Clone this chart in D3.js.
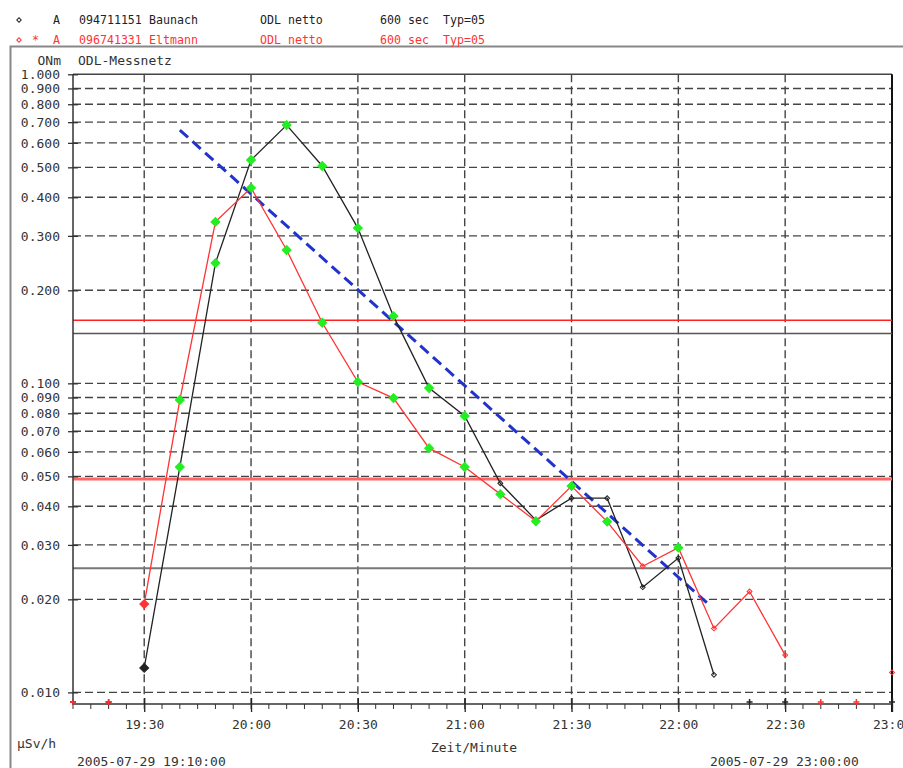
<!DOCTYPE html>
<html lang="de">
<head>
<meta charset="UTF-8">
<title>ODL-Messnetz</title>
<script src="https://d3js.org/d3.v7.min.js"></script>
<style>
  body { margin: 0; background: #fff; }
  text { font-family: "DejaVu Sans Mono", monospace; font-size: 13px; fill: #333; }
</style>
</head>
<body>
<script>
// 10-minute values (600 sec), 2005-07-29
const times = ["19:10","19:20","19:30","19:40","19:50","20:00","20:10","20:20","20:30","20:40","20:50","21:00",
               "21:10","21:20","21:30","21:40","21:50","22:00","22:10","22:20","22:30","22:40","22:50","23:00"];
const baunach = [null, null, 0.0120, 0.0536, 0.245, 0.528, 0.685, 0.505, 0.318, 0.165, 0.0966, 0.0784,
                 0.0475, 0.0361, 0.0425, 0.0425, 0.0219, 0.0272, 0.0114, null, null, null, null, null];
const eltmann = [null, null, 0.0193, 0.0883, 0.333, 0.429, 0.270, 0.157, 0.101, 0.0896, 0.0617, 0.0536,
                 0.0438, 0.0358, 0.0465, 0.0357, 0.0256, 0.0294, 0.0161, 0.0212, 0.0132, null, null, 0.0116];
// marker kind per point: f = first (filled), g = green, o = plain
const baunachMarks = ["","","f","g","g","g","g","g","g","g","g","g","o","o","o","o","o","o","o","","","","",""];
const eltmannMarks = ["","","f","g","g","g","g","g","g","g","g","g","g","g","g","g","o","g","o","o","o","","","o"];
// times with no value, drawn on the time axis
const baunachMissing = ["19:10","19:20","22:20","22:30","23:00"];
const eltmannMissing = ["19:10","19:20","22:40","22:50"];

const trendTimes = ["19:40", "22:08"];
const trendValues = [0.66, 0.0195];

const redLimits = [0.16, 0.049];
const greyLimits = [0.145, 0.0252];

const yTickValues = [0.01,0.02,0.03,0.04,0.05,0.06,0.07,0.08,0.09,0.1,0.2,0.3,0.4,0.5,0.6,0.7,0.8,0.9,1.0];

const width = 903, height = 768;
const parse = d3.timeParse("%Y-%m-%d %H:%M");
const t = s => parse("2005-07-29 " + s);

const svg = d3.select("body").append("svg")
    .attr("width", width)
    .attr("height", height);

const x = d3.scaleTime().domain([t("19:10"), t("23:00")]).range([73, 892]);
const y = d3.scaleLog().domain([0.00917, 1]).range([704, 74.3]);

// square diamond
const diamond = s => d3.symbol(d3.symbolSquare, s)();

// outer frame
svg.append("path")
    .attr("d", `M10.5,${height}V46.5H${width}`)
    .attr("fill", "none").attr("stroke", "#888").attr("stroke-width", 2);

// legend
const legend = [
    {c: "#222", star: false, id: "094711151", name: "Baunach", yy: 24},
    {c: "#f33", star: true, id: "096741331", name: "Eltmann", yy: 44}
];
legend.forEach(d => {
    const g = svg.append("g").attr("transform", `translate(0,${d.yy})`);
    g.append("path").attr("d", diamond(10)).attr("transform", "translate(19,-4) rotate(45)")
        .attr("fill", "none").attr("stroke", d.c).attr("stroke-width", 1);
    if (d.star) g.append("text").attr("x", 32).text("*");
    g.append("text").attr("x", 53).text("A");
    g.append("text").attr("x", 79).text(d.id);
    g.append("text").attr("x", 149).text(d.name);
    g.append("text").attr("x", 260).text("ODL netto");
    g.append("text").attr("x", 380).text("600 sec");
    g.append("text").attr("x", 443).text("Typ=05");
    g.selectAll("text").style("fill", d.c).style("font-size", "11.6px");
});

svg.append("text").attr("x", 61).attr("y", 65).attr("text-anchor", "end").text("ONm");
svg.append("text").attr("x", 78).attr("y", 65).text("ODL-Messnetz");

// grid
const grid = svg.append("g").attr("stroke", "#444").attr("stroke-width", 1.4).attr("stroke-dasharray", "8,4");
grid.selectAll("line.h").data(yTickValues.filter(v => v < 1)).join("line")
    .attr("x1", x.range()[0]).attr("x2", x.range()[1])
    .attr("y1", d => y(d)).attr("y2", d => y(d));
const majors = d3.timeMinute.every(30).range(t("19:30"), t("23:00"));
grid.selectAll("line.v").data(majors).join("line")
    .attr("x1", d => x(d)).attr("x2", d => x(d))
    .attr("y1", y(1)).attr("y2", y.range()[0]);

// top border and right border
svg.append("line").attr("x1", 73).attr("x2", 892).attr("y1", y(1)).attr("y2", y(1))
    .attr("stroke", "#444").attr("stroke-width", 1.5);
svg.append("line").attr("x1", 892).attr("x2", 892).attr("y1", y(1)).attr("y2", 712)
    .attr("stroke", "#111").attr("stroke-width", 2);

// limit lines
const limitStyle = [
    {v: redLimits[0], c: "#f22", w: 1.4},
    {v: greyLimits[0], c: "#555", w: 1.6},
    {v: redLimits[1], c: "#f66", w: 3},
    {v: greyLimits[1], c: "#777", w: 2}
];
svg.selectAll("line.limit").data(limitStyle).join("line")
    .attr("x1", 73).attr("x2", 892)
    .attr("y1", d => y(d.v)).attr("y2", d => y(d.v))
    .attr("stroke", d => d.c).attr("stroke-width", d => d.w);

// y axis
const yAxis = svg.append("g").attr("transform", "translate(73,0)")
    .call(d3.axisLeft(y).tickValues(yTickValues).tickFormat(d3.format(".3f")).tickSize(5).tickPadding(8));
yAxis.select(".domain").attr("stroke", "#333").attr("stroke-width", 1.5).attr("d", `M0,${y(1)}V704`);
yAxis.selectAll(".tick line").attr("x1", -5).attr("x2", 5).attr("stroke", "#333").attr("stroke-width", 1.3);
yAxis.selectAll(".tick text").style("font-family", "DejaVu Sans Mono").style("font-size", "13px").attr("fill", "#333");

// x axis
const xAxis = svg.append("g").attr("transform", "translate(0,704)")
    .call(d3.axisBottom(x).ticks(d3.timeMinute.every(30)).tickFormat(d3.timeFormat("%H:%M")).tickSize(8).tickPadding(8));
xAxis.select(".domain").attr("stroke", "#333").attr("stroke-width", 1.5).attr("d", "M73,0H892");
xAxis.selectAll(".tick").filter(d => +d === +t("19:10")).remove();
xAxis.selectAll(".tick line").attr("y1", -6).attr("stroke", "#222").attr("stroke-width", 1.3);
xAxis.selectAll(".tick text").style("font-family", "DejaVu Sans Mono").style("font-size", "13px").attr("fill", "#333");
svg.append("g").selectAll("line").data(d3.timeMinute.every(5).range(t("19:10"), t("23:00")))
    .join("line")
    .attr("x1", d => x(d)).attr("x2", d => x(d)).attr("y1", 704).attr("y2", 709)
    .attr("stroke", "#333").attr("stroke-width", 1);

svg.append("text").attr("x", 17).attr("y", 748).text("µSv/h");
svg.append("text").attr("x", 474).attr("y", 752).attr("text-anchor", "middle").text("Zeit/Minute");
svg.append("text").attr("x", 77).attr("y", 766).text("2005-07-29 19:10:00");
svg.append("text").attr("x", 710).attr("y", 766).text("2005-07-29 23:00:00");

// trend line
svg.append("line")
    .attr("x1", x(t(trendTimes[0]))).attr("y1", y(trendValues[0]))
    .attr("x2", x(t(trendTimes[1]))).attr("y2", y(trendValues[1]))
    .attr("stroke", "#2233cc").attr("stroke-width", 3).attr("stroke-dasharray", "11,6");

// series
const line = d3.line().defined(d => d.v != null).x(d => x(d.t)).y(d => y(d.v));
function series(values, marks, missing, color) {
    const pts = times.map((s, i) => ({t: t(s), v: values[i], m: marks[i]}));
    svg.append("path").datum(pts).attr("d", line)
        .attr("fill", "none").attr("stroke", color).attr("stroke-width", 1.3);
    svg.append("g").selectAll("path").data(pts.filter(d => d.v != null))
        .join("path")
        .attr("transform", d => `translate(${x(d.t)},${y(d.v)}) rotate(45)`)
        .attr("d", d => diamond(d.m === "o" ? 12 : 40))
        .attr("fill", d => d.m === "g" ? "#22ee22" : d.m === "f" ? color : "none")
        .attr("stroke", d => d.m === "g" ? "#22ee22" : color)
        .attr("stroke-width", 1);
    svg.append("g").selectAll("path").data(missing)
        .join("path")
        .attr("transform", d => `translate(${x(t(d))},702)`)
        .attr("d", "M-3,0H3M0,-3V3")
        .attr("stroke", color).attr("stroke-width", 1.5);
}
series(baunach, baunachMarks, baunachMissing, "#222");
series(eltmann, eltmannMarks, eltmannMissing, "#f33");
</script>
</body>
</html>
